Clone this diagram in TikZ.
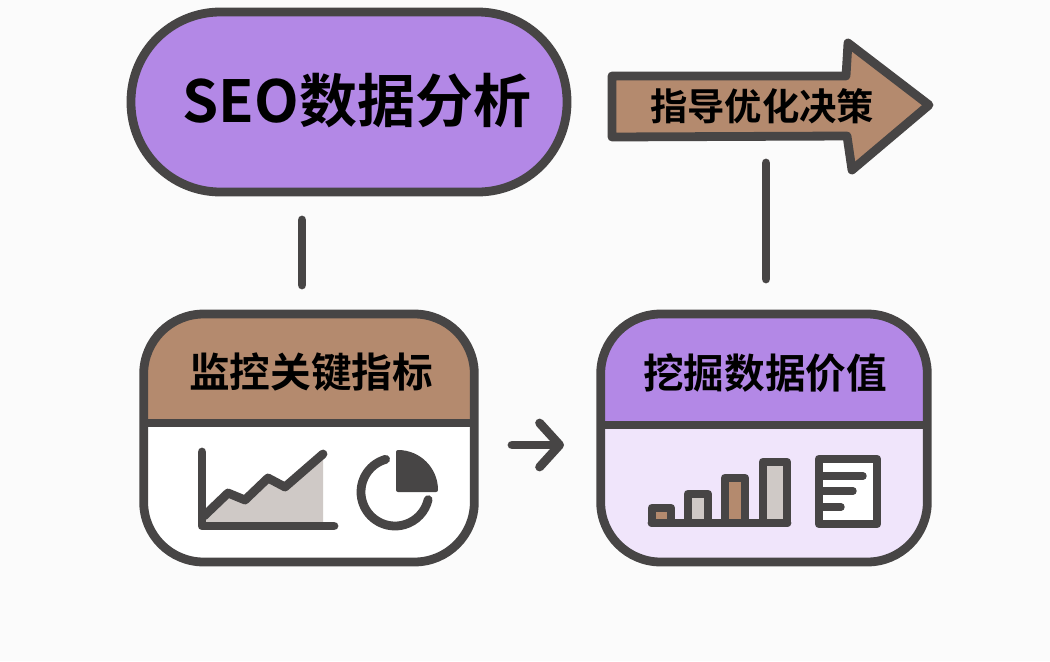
\documentclass[tikz,border=0pt]{standalone}
\usepackage{fontspec}
\usepackage{tikz}
\usetikzlibrary{arrows.meta}
\newfontfamily\cjk{Noto Sans CJK SC}[BoldFont={Noto Sans CJK SC Bold}]
\definecolor{bgcol}{HTML}{FBFBFB}
\definecolor{inkcol}{HTML}{474545}
\definecolor{purplecol}{HTML}{B388E6}
\definecolor{browncol}{HTML}{B48A6E}
\definecolor{palecol}{HTML}{F0E5FB}
\definecolor{greycol}{HTML}{CFC9C6}
\tikzset{
    ink/.style={draw=inkcol,line width=6.6pt,line cap=round,line join=round},
    thin ink/.style={draw=inkcol,line width=5.6pt,line cap=round,line join=round},
    pill/.style={ink,fill=purplecol,rounded corners=67pt,minimum width=327pt,minimum height=135pt,inner sep=0pt},
    panel/.style={ink,rounded corners=45pt,minimum height=186pt,inner sep=0pt},
    big label/.style={font=\cjk\bfseries\fontsize{43.5}{43.5}\selectfont,text=black,inner sep=0pt},
    small label/.style={font=\cjk\bfseries\fontsize{30.5}{30.5}\selectfont,text=black,inner sep=0pt},
    arrow label/.style={font=\cjk\bfseries\fontsize{28}{28}\selectfont,text=black,inner sep=0pt},
}
\begin{document}
\begin{tikzpicture}[x=0.75pt,y=-0.75pt]
        %背景
        \fill[bgcol] (0,0) rectangle (1050,661);
        \useasboundingbox (0,0) rectangle (1050,661);
        %上方标题
        \node[pill] (seo) at (349,102) {};
        \node[big label] (seotext) at (357,101) {SEO数据分析};
        %决策箭头
        \draw[ink,fill=browncol] (612,76) -- (846,76) -- (848,43) -- (929,105) -- (852,170) -- (847,136) -- (612,137) -- cycle;
        \node[arrow label] (decision) at (762,106) {指导优化决策};
        %左面板
        \node[panel,minimum width=248pt,fill=white,path picture={
            \fill[browncol] (-200,-200) rectangle (200,-15);
        }] (monitor) at (309,438) {};
        \draw[ink,line cap=butt,shorten <=3pt,shorten >=3pt] (monitor.west |- 0,423) -- (monitor.east |- 0,423);
        \node[small label] (monitortext) at (311,372) {监控关键指标};
        %右面板
        \node[panel,minimum width=245pt,fill=palecol,path picture={
            \fill[purplecol] (-200,-200) rectangle (200,-13);
        }] (value) at (764,438) {};
        \draw[ink,line cap=butt,shorten <=3pt,shorten >=3pt] (value.west |- 0,425) -- (value.east |- 0,425);
        \node[small label] (valuetext) at (765,373) {挖掘数据价值};
        %连线
        \coordinate (seoend) at (302,220);
        \coordinate (monitorend) at (302,285);
        \coordinate (valueend) at (766,279);
        \coordinate (decisionend) at (766,163);
        \coordinate (flowstart) at (512,445);
        \coordinate (flowend) at (564,445);
        \draw[ink] (seoend) -- (monitorend);
        \draw[ink] (valueend) -- (decisionend);
        \draw[ink,-{Straight Barb[round,length=15pt,width=33pt]}] (flowstart) -- (flowend);
        %折线图
        \fill[greycol] (205,520) -- (228,493) -- (245,500) -- (268,478) -- (285,487) -- (323,454) -- (323,524) -- (205,524) -- cycle;
        \draw[ink] (202,452) -- (202,526) -- (334,526);
        \draw[ink] (204,516) -- (228,493) -- (245,500) -- (268,478) -- (285,487) -- (323,454);
        %饼图
        \draw[ink] (395,492) ++(-106:34) arc[start angle=-106,end angle=-347,radius=34];
        \draw[draw=inkcol,line width=3pt,line join=round,fill=inkcol] (398,490) -- (398,452) arc[start angle=-90,end angle=0,radius=38] -- cycle;
        %柱状图
        \draw[ink,fill=browncol] (652,508) rectangle (671,523);
        \draw[ink,fill=greycol] (688,494) rectangle (708,523);
        \draw[ink,fill=browncol] (725,478) rectangle (745,523);
        \draw[ink,fill=greycol] (763,462) rectangle (787,523);
        \draw[ink] (652,523) -- (787,523);
        %文档
        \draw[ink,fill=white] (819,459) rectangle (877,524);
        \draw[thin ink] (823,476) -- (863,476);
        \draw[thin ink] (823,491) -- (853,491);
        \draw[thin ink] (823,507) -- (841,507);
    \end{tikzpicture}
\end{document}
